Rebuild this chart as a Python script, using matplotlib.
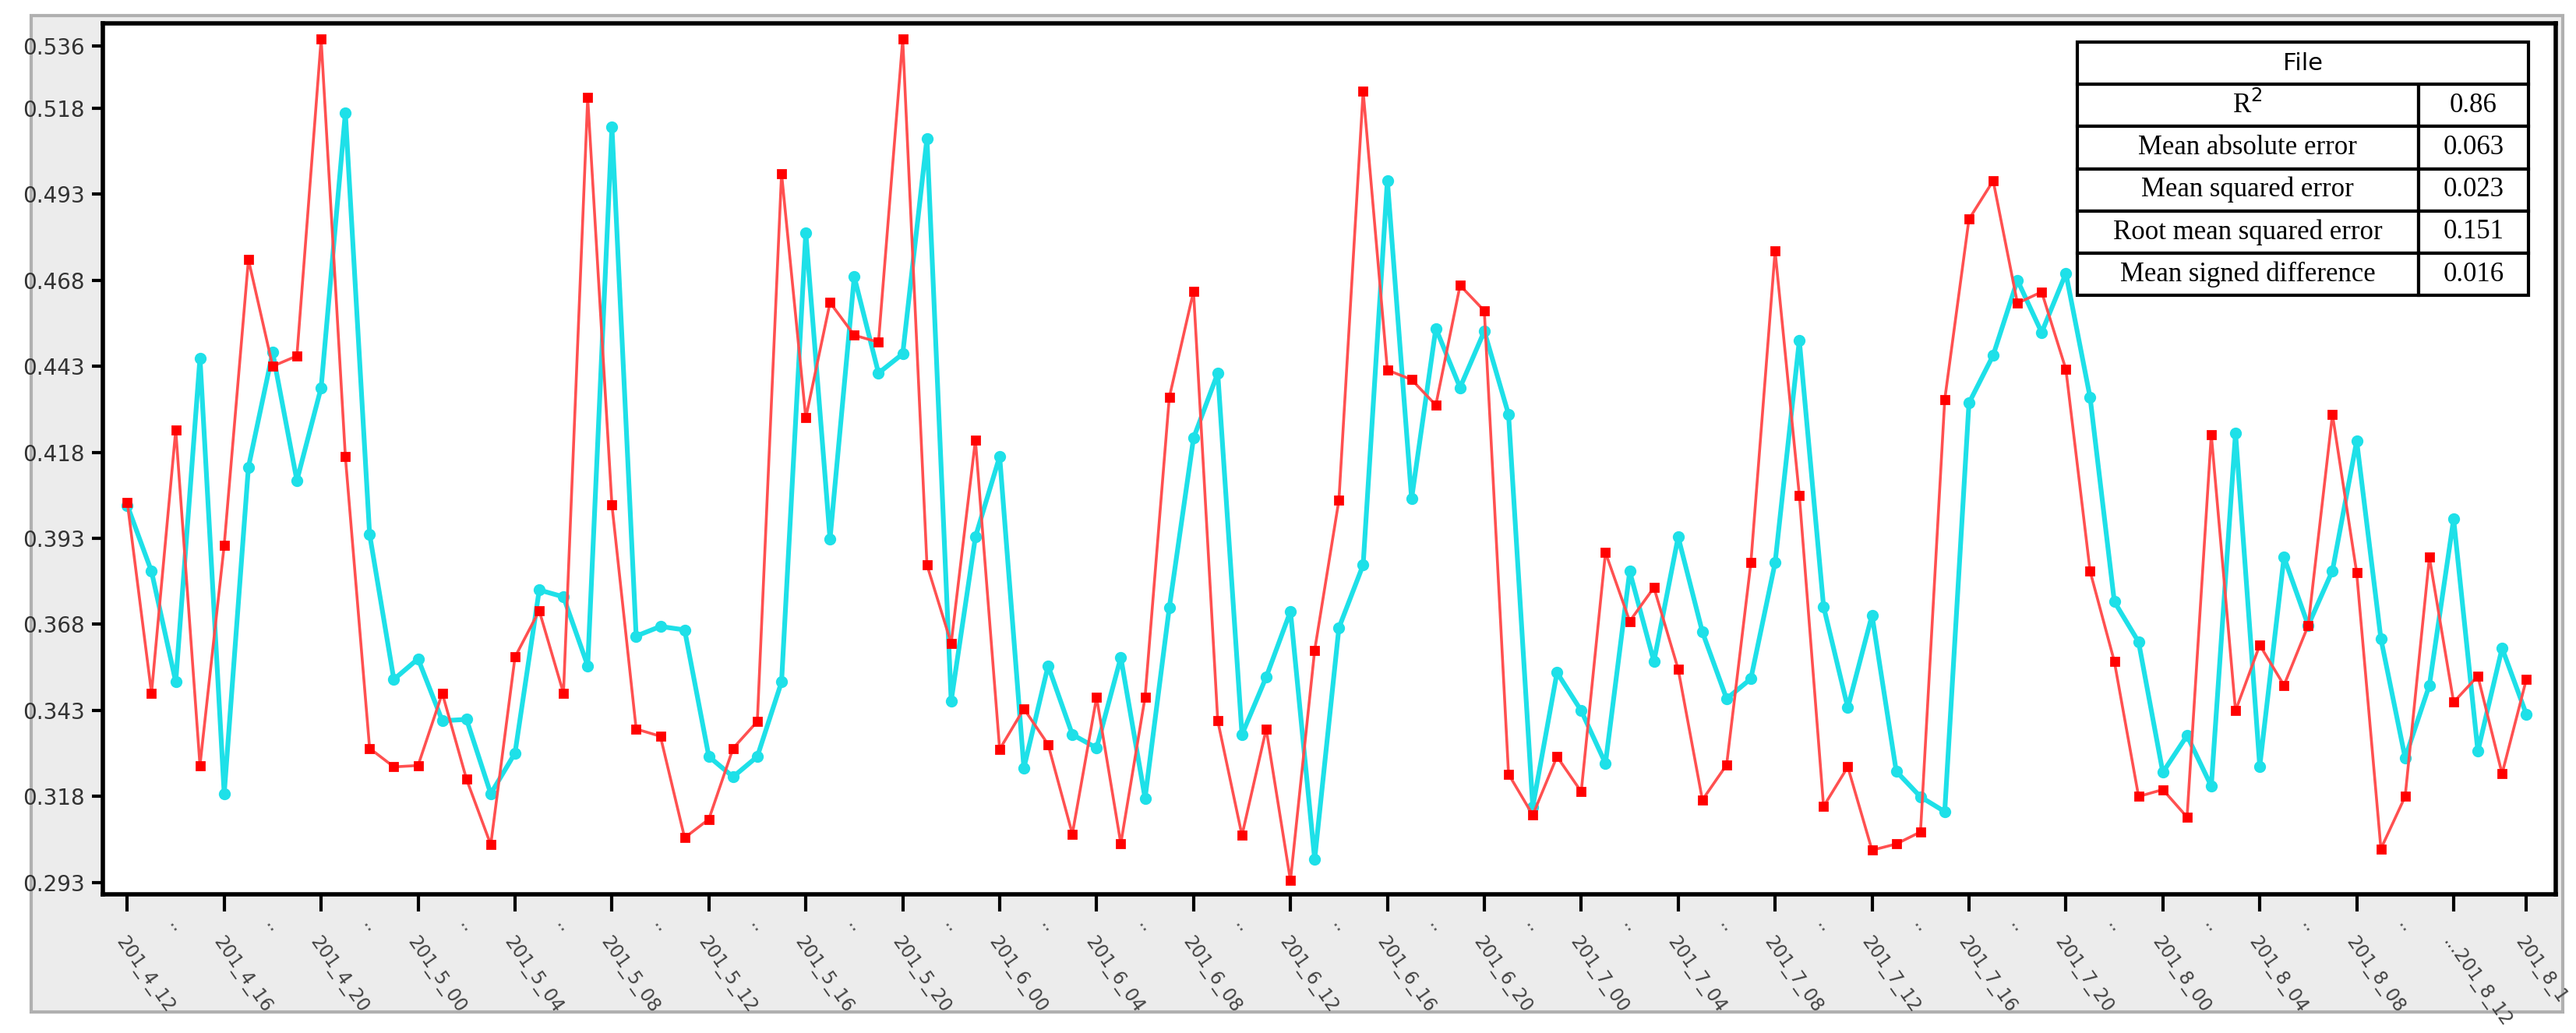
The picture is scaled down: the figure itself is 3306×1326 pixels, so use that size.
import numpy as np
import matplotlib.pyplot as plt
from matplotlib.patches import Rectangle

# values
red_vals = [0.4035, 0.348, 0.4245, 0.327, 0.391, 0.474, 0.443, 0.446, 0.538, 0.4167,
            0.332, 0.3266, 0.327, 0.348, 0.323, 0.304, 0.3585, 0.372, 0.348, 0.521,
            0.4027, 0.3376, 0.3355, 0.306, 0.3114, 0.332, 0.3398, 0.499, 0.428, 0.4615,
            0.452, 0.450, 0.538, 0.3853, 0.3625, 0.4216, 0.3317, 0.3435, 0.3331, 0.3071,
            0.3468, 0.3043, 0.3468, 0.4339, 0.4648, 0.340, 0.3067, 0.3376, 0.2936, 0.3605,
            0.4041, 0.5229, 0.4419, 0.4391, 0.4317, 0.4665, 0.4591, 0.3245, 0.3126, 0.3296,
            0.3194, 0.3889, 0.3689, 0.3787, 0.355, 0.317, 0.3272, 0.3859, 0.4765, 0.4055,
            0.3151, 0.3266, 0.3024, 0.3042, 0.3077, 0.4333, 0.4857, 0.4969, 0.4613, 0.4646,
            0.4421, 0.3834, 0.3572, 0.318, 0.320, 0.312, 0.4232, 0.3429, 0.362, 0.3503,
            0.3677, 0.429, 0.383, 0.3028, 0.318, 0.3875, 0.3454, 0.353, 0.3246, 0.352]
cyan_vals = [0.4026, 0.3834, 0.3513, 0.4454, 0.3188, 0.4137, 0.447, 0.4098, 0.4368, 0.5166,
             0.3942, 0.352, 0.358, 0.340, 0.3404, 0.3188, 0.3306, 0.378, 0.376, 0.356,
             0.5125, 0.3646, 0.3674, 0.3664, 0.3296, 0.3237, 0.3296, 0.3513, 0.4818, 0.3928,
             0.469, 0.441, 0.4466, 0.5092, 0.3458, 0.3934, 0.4168, 0.3263, 0.356, 0.336,
             0.3321, 0.3584, 0.3175, 0.3728, 0.4221, 0.441, 0.336, 0.3527, 0.3718, 0.2998,
             0.367, 0.3853, 0.497, 0.4045, 0.454, 0.4368, 0.4532, 0.429, 0.315, 0.354,
             0.3429, 0.3276, 0.3834, 0.3572, 0.3934, 0.3658, 0.3464, 0.3522, 0.3859, 0.4505,
             0.3732, 0.3438, 0.3707, 0.3253, 0.3179, 0.3136, 0.4323, 0.4462, 0.468, 0.4528,
             0.470, 0.4339, 0.3746, 0.3629, 0.325, 0.3357, 0.321, 0.4236, 0.3268, 0.3875,
             0.3677, 0.3836, 0.4213, 0.3638, 0.3292, 0.3503, 0.3986, 0.3312, 0.3611, 0.3419]
tick_pos = [0, 4, 8, 12, 16, 20, 24, 28, 32, 36, 40, 44, 48, 52, 56, 60, 64, 68, 72, 76,
            80, 84, 88, 92, 96, 99]
tick_labels = ['201_4_12', '201_4_16', '201_4_20', '201_5_00', '201_5_04', '201_5_08',
               '201_5_12', '201_5_16', '201_5_20', '201_6_00', '201_6_04', '201_6_08',
               '201_6_12', '201_6_16', '201_6_20', '201_7_00', '201_7_04', '201_7_08',
               '201_7_12', '201_7_16', '201_7_20', '201_8_00', '201_8_04', '201_8_08',
               '...201_8_12', '201_8_1']
y_ticks = [0.293, 0.318, 0.343, 0.368, 0.393, 0.418, 0.443, 0.468, 0.493, 0.518, 0.536]
metric_names = ['R$^2$', 'Mean absolute error', 'Mean squared error',
                'Root mean squared error', 'Mean signed difference']
metric_vals = ['0.86', '0.063', '0.023', '0.151', '0.016']

fig = plt.figure(figsize=(16.53, 6.63), dpi=200)
fig.patches.append(Rectangle((0.012, 0.02), 0.983, 0.965, transform=fig.transFigure,
                             facecolor='#ececec', edgecolor='#b0b0b0', lw=1.5, zorder=-1))
ax = fig.add_axes([0.040, 0.134, 0.952, 0.843])
ax.set_facecolor('white')

x = np.arange(len(red_vals))
ax.plot(x, cyan_vals, color='#1ee0e8', lw=2.2, marker='o', ms=4.5, zorder=2)
ax.plot(x, red_vals, color='#ff5050', lw=1.3, marker='s', ms=3.5,
        mfc='#ff0000', mec='#ff0000', zorder=3)

ax.set_xlim(-1, 100.2)
ax.set_ylim(0.2895, 0.5425)
ax.set_yticks(y_ticks)
ax.set_yticklabels([f'{v:.3f}' for v in y_ticks], fontsize=10, color='#333333')
ax.set_xticks(tick_pos)
ax.set_xticklabels(tick_labels, rotation=-55, ha='left', va='top', fontsize=8.5,
                   color='#444444', rotation_mode='anchor')
ax.tick_params(axis='x', length=8, width=1.5, pad=10)
ax.tick_params(axis='y', length=5, width=1.5)
for s in ax.spines.values():
    s.set_linewidth(2)

# the ".." labels between the dated ticks
for p in tick_pos[:-2]:
    ax.text(p + 2, 0.2835, '..', fontsize=9, color='#555555', ha='center', va='top',
            rotation=-55, transform=ax.transData, clip_on=False)

# metrics table in the upper right
row_h = (0.979 - 0.688) / 6
tab = ax.table(cellText=[[n, v] for n, v in zip(metric_names, metric_vals)],
               colWidths=[0.756, 0.244], cellLoc='center',
               bbox=[0.805, 0.688, 0.184, row_h * 5], zorder=5)
tab.auto_set_font_size(False)
for (r, c), cell in tab.get_celld().items():
    cell.set_linewidth(1.5)
    cell.set_facecolor('white')
    cell.get_text().set_fontfamily('Liberation Serif')
    cell.get_text().set_fontsize(12.5)
head = ax.table(cellText=[['File']], cellLoc='center',
                bbox=[0.805, 0.688 + row_h * 5, 0.184, row_h], zorder=5)
head.auto_set_font_size(False)
for cell in head.get_celld().values():
    cell.set_linewidth(1.5)
    cell.set_facecolor('white')
    cell.get_text().set_fontsize(11)

fig.savefig('out.png', dpi=200)
